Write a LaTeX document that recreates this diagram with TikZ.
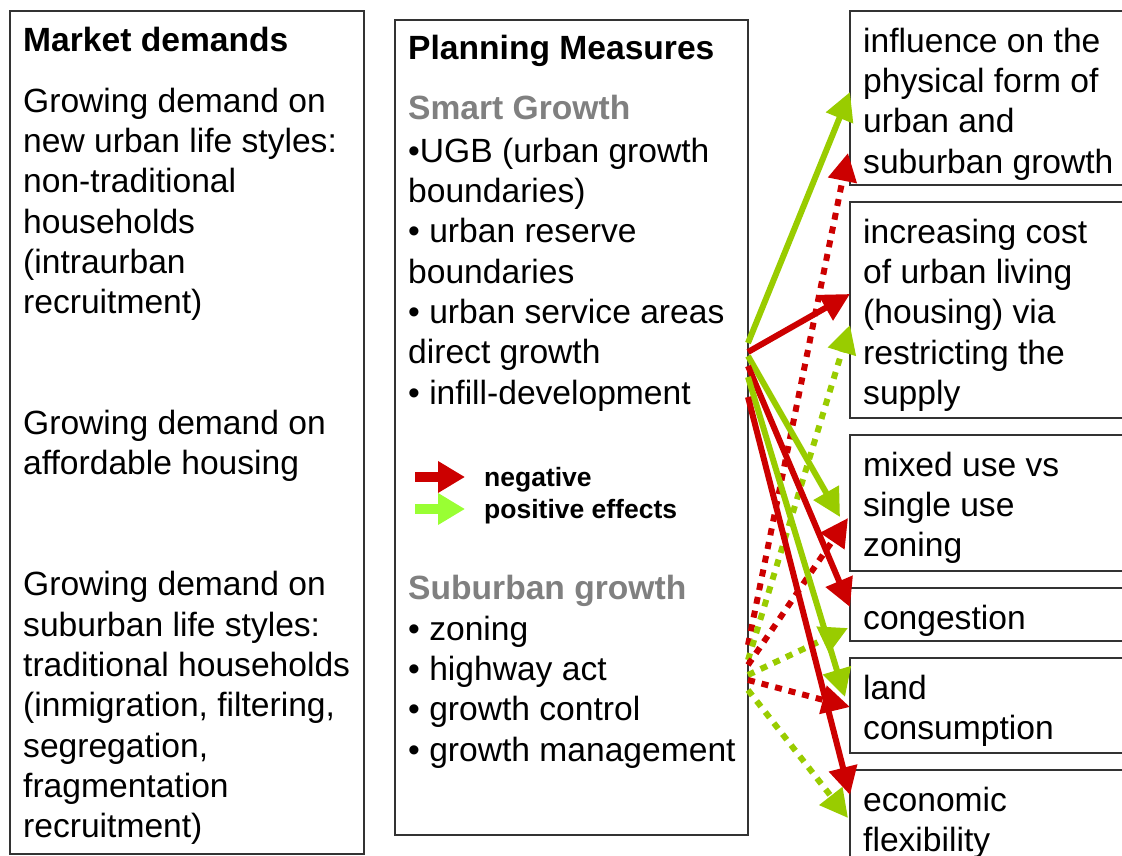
\documentclass[tikz,border=0pt]{standalone}
\usepackage{fontspec}
\setmainfont{Liberation Sans}
\usetikzlibrary{positioning,calc,arrows.meta}

\definecolor{negred}{HTML}{CC0000}
\definecolor{posgreen}{HTML}{99CC00}
\definecolor{leggreen}{HTML}{99FF33}
\definecolor{subgray}{HTML}{808080}

\tikzset{
  box/.style={draw=black!80, line width=1.2pt, inner sep=0pt, outer sep=0pt, anchor=north west},
  txt/.style={font=\fontsize{33.6}{40.3}\selectfont, align=left, inner sep=0pt, anchor=north west},
  ttl/.style={font=\fontsize{33.6}{40.3}\selectfont\bfseries, inner sep=0pt, anchor=base west},
  sub/.style={ttl, text=subgray},
  leg/.style={font=\fontsize{26.5}{30}\selectfont\bfseries, inner sep=0pt, anchor=base west},
  effect/.style={line width=6pt, -{Triangle[length=28pt,width=28pt]}},
  negarrow/.style={effect, draw=negred},
  posarrow/.style={effect, draw=posgreen},
  dots/.style={dash pattern=on 7pt off 7pt},
}

\begin{document}
\begin{tikzpicture}[x=1pt,y=-1pt]
\useasboundingbox (0,0) rectangle (1122,856);
\clip (0,0) rectangle (1122,856);

% boxes
\node[box, minimum width=354pt, minimum height=843pt] (MD) at (10,11) {};
\node[box, minimum width=353pt, minimum height=815pt] (PM) at (395,20) {};
\node[box, minimum width=300pt, minimum height=174pt] (E1) at (850,11) {};
\node[box, minimum width=300pt, minimum height=216pt, below=17pt of E1.south west, anchor=north west] (E2) {};
\node[box, minimum width=300pt, minimum height=136pt, below=17pt of E2.south west, anchor=north west] (E3) {};
\node[box, minimum width=300pt, minimum height=53pt, below=17pt of E3.south west, anchor=north west] (E4) {};
\node[box, minimum width=300pt, minimum height=95pt, below=17pt of E4.south west, anchor=north west] (E5) {};
\node[box, minimum width=300pt, minimum height=150pt, below=17pt of E5.south west, anchor=north west] (E6) {};

% market demands
\node[ttl] (MDt) at (23,52) {Market demands};
\node[txt] (MDx) at (23,83.8) {\strut Growing demand on\\new urban life styles:\\non-traditional\\households\\(intraurban\\recruitment)\\[80.6pt]Growing demand on\\affordable housing\\[80.6pt]Growing demand on\\suburban life styles:\\traditional households\\(inmigration, filtering,\\segregation,\\fragmentation\\recruitment)};

% planning measures
\node[ttl] (PMt) at (408,60) {Planning Measures};
\node[sub] (SG) at (408,120) {Smart Growth};
\node[txt] (SGx) at (408,133.8) {\strut •UGB (urban growth\\boundaries)\\• urban reserve\\boundaries\\• urban service areas\\direct growth\\• infill-development};
\node[leg] (LN) at (484,486) {negative};
\node[leg] (LP) at (484,518) {positive effects};
\node[sub] (SU) at (408,599) {Suburban growth};
\node[txt] (SUx) at (408,611.8) {\strut • zoning\\• highway act\\• growth control\\• growth management};

% effects
\node[txt] (E1x) at ($(E1.north west)+(13,12.8)$) {\strut influence on the\\physical form of\\urban and\\suburban growth};
\node[txt] (E2x) at ($(E2.north west)+(13,12.8)$) {\strut increasing cost\\of urban living\\(housing) via\\restricting the\\supply};
\node[txt] (E3x) at ($(E3.north west)+(13,12.8)$) {\strut mixed use vs\\single use\\zoning};
\node[txt] (E4x) at ($(E4.north west)+(13,12.8)$) {\strut congestion};
\node[txt] (E5x) at ($(E5.north west)+(13,12.8)$) {\strut land\\consumption};
\node[txt] (E6x) at ($(E6.north west)+(13,12.8)$) {\strut economic\\flexibility};

% legend
\draw[line width=10pt, negred, -{Triangle[length=27pt,width=30pt]}] ($(LN.base west)+(-69,-9)$) -- ($(LN.base west)+(-19,-9)$);
\draw[line width=10pt, leggreen, -{Triangle[length=27pt,width=30pt]}] ($(LP.base west)+(-69,-9)$) -- ($(LP.base west)+(-19,-9)$);

% start and end points
\coordinate (s1) at ($(PM.north east)+(0,323)$);
\coordinate (s2) at ($(PM.north east)+(0,332)$);
\coordinate (s3) at ($(PM.north east)+(0,336)$);
\coordinate (s4) at ($(PM.north east)+(0,346)$);
\coordinate (s5) at ($(PM.north east)+(0,357)$);
\coordinate (s6) at ($(PM.north east)+(0,377)$);
\coordinate (s7) at ($(PM.north east)+(0,625)$);
\coordinate (s8) at ($(PM.north east)+(0,640)$);
\coordinate (s9) at ($(PM.north east)+(0,645)$);
\coordinate (s10) at ($(PM.north east)+(0,655)$);
\coordinate (s11) at ($(PM.north east)+(0,660)$);
\coordinate (s12) at ($(PM.north east)+(0,670)$);
\coordinate (t1) at ($(E1.north west)+(0,81)$);
\coordinate (t2) at ($(E2.north west)+(0,92)$);
\coordinate (t3) at ($(E3.north west)+(-10,82)$);
\coordinate (t4) at ($(E4.north west)+(0,19)$);
\coordinate (t5) at ($(E5.north west)+(-5,39)$);
\coordinate (t6) at ($(E6.north west)+(0,25)$);
\coordinate (t7) at ($(E1.north west)+(-2,142)$);
\coordinate (t8) at ($(E2.north west)+(0,123)$);
\coordinate (t9) at ($(E3.north west)+(-2,83)$);
\coordinate (t10) at ($(E4.north west)+(-2,40)$);
\coordinate (t11) at ($(E5.north west)+(0,49)$);
\coordinate (t12) at ($(E6.north west)+(-2,48)$);

% suburban growth effects
\draw[negarrow, dots] (s7) -- (t7);
\draw[posarrow, dots] (s8) -- (t8);
\draw[negarrow, dots] (s9) -- (t9);
\draw[posarrow, dots] (s10) -- (t10);
\draw[negarrow, dots] (s11) -- (t11);
\draw[posarrow, dots] (s12) -- (t12);

% smart growth effects
\draw[posarrow] (s1) -- (t1);
\draw[negarrow] (s2) -- (t2);
\draw[posarrow] (s3) -- (t3);
\draw[negarrow] (s4) -- (t4);
\draw[posarrow] (s5) -- (t5);
\draw[negarrow] (s6) -- (t6);

\end{tikzpicture}
\end{document}
